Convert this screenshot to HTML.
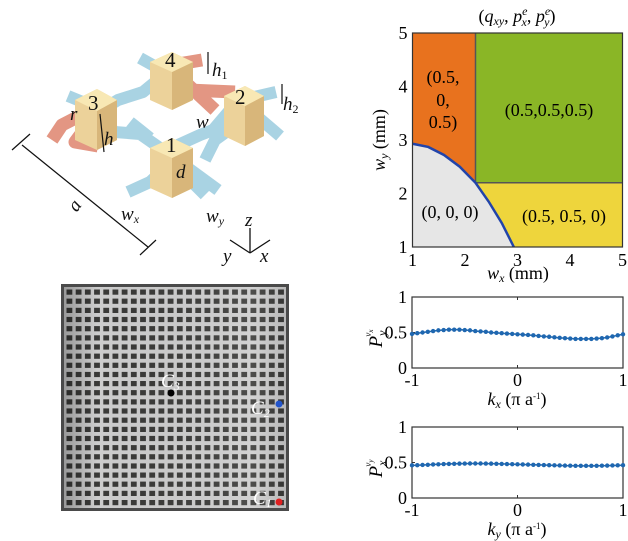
<!DOCTYPE html>
<html><head><meta charset="utf-8"><style>
html,body{margin:0;padding:0;background:#fff}
svg{display:block;font-family:"Liberation Serif",serif}
</style></head><body>
<svg id="fig" width="628" height="541" viewBox="0 0 628 541">
<defs>
<linearGradient id="shade" x1="0" y1="0" x2="1" y2="0">
<stop offset="0" stop-color="#000" stop-opacity="0.25"/>
<stop offset="0.15" stop-color="#000" stop-opacity="0"/>
<stop offset="0.85" stop-color="#fff" stop-opacity="0.1"/>
<stop offset="1" stop-color="#000" stop-opacity="0.1"/>
</linearGradient>
</defs>

<g>
<g fill="none" stroke-linecap="butt" stroke-linejoin="round">
<g stroke="#e39683" stroke-width="13">
<polyline points="95,108 62,125 52,140"/>
<polyline points="95,115 75,142 98,146"/>
<polyline points="170,68 215,110"/>
<polyline points="172,65 202,60"/>
<polyline points="188,90 235,92"/>
</g>
<g stroke="#a9d3e3" stroke-width="12">
<polyline points="158,68 140,58"/>
<polyline points="160,78 143,92 118,100 105,108"/>
<polyline points="100,118 115,132 140,134 160,148"/>
<polyline points="68,96 90,105"/>
<polyline points="178,145 200,135 213,130 230,110"/>
<polyline points="250,98 276,92"/>
<polyline points="252,112 280,136"/>
<polyline points="240,122 215,140 205,160"/>
<polyline points="165,168 150,182 128,192"/>
<polyline points="188,168 218,190"/>
<polyline points="182,172 205,195"/>
<polyline points="130,122 150,138"/>
</g>
</g>
<g>
<polygon points="150,62 172,52 193,62 193,100 172,110 150,100" fill="#ecd29a"/>
<polygon points="172,72 193,62 193,100 172,110" fill="#d8b67a"/>
<polygon points="150,62 172,52 193,62 172,72" fill="#f8e8b4"/>
</g>
<g>
<polygon points="75,100 97,89 117,100 117,140 97,150 75,140" fill="#ecd29a"/>
<polygon points="97,111 117,100 117,140 97,150" fill="#d8b67a"/>
<polygon points="75,100 97,89 117,100 97,111" fill="#f8e8b4"/>
</g>
<g>
<polygon points="224,96 245,86 264,96 264,136 245,146 224,136" fill="#ecd29a"/>
<polygon points="245,106 264,96 264,136 245,146" fill="#d8b67a"/>
<polygon points="224,96 245,86 264,96 245,106" fill="#f8e8b4"/>
</g>
<g>
<polygon points="150,148 172,138 193,148 193,188 172,198 150,188" fill="#ecd29a"/>
<polygon points="172,158 193,148 193,188 172,198" fill="#d8b67a"/>
<polygon points="150,148 172,138 193,148 172,158" fill="#f8e8b4"/>
</g>
<g font-size="21" fill="#111">
<text x="165" y="67">4</text><text x="88" y="110">3</text><text x="235" y="104">2</text><text x="166" y="152">1</text>
</g>
<g font-size="19" font-style="italic" fill="#111">
<text x="212" y="76">h<tspan font-size="12" font-style="normal" dy="3">1</tspan></text>
<text x="283" y="110">h<tspan font-size="12" font-style="normal" dy="3">2</tspan></text>
<text x="70" y="120">r</text>
<text x="104" y="145">h</text>
<text x="196" y="128">w</text>
<text x="176" y="178">d</text>
<text x="121" y="220">w<tspan font-size="12" dy="3">x</tspan></text>
<text x="206" y="222">w<tspan font-size="12" dy="3">y</tspan></text>
<text x="68" y="210" transform="rotate(-55 75 203)">a</text>
</g>
<g stroke="#111" stroke-width="1.2">
<line x1="22" y1="145" x2="148" y2="247"/>
<line x1="12" y1="150" x2="30" y2="134"/>
<line x1="140" y1="255" x2="156" y2="240"/>
<line x1="100" y1="114" x2="104" y2="152"/>
<line x1="208" y1="52" x2="208" y2="74"/>
<line x1="282" y1="84" x2="282" y2="104"/>
</g>
<g stroke="#111" stroke-width="1.3" fill="none">
<line x1="250" y1="253" x2="250" y2="228"/>
<line x1="250" y1="253" x2="230" y2="240"/>
<line x1="250" y1="253" x2="270" y2="240"/>
</g>
<g font-size="19" font-style="italic" fill="#111">
<text x="245" y="226">z</text><text x="223" y="262">y</text><text x="260" y="262">x</text>
</g>
</g>

<g>
<rect x="61" y="284" width="228" height="227" fill="#4a4a4a"/>
<rect x="64" y="287" width="222" height="221" fill="#cdcdcd"/>
<g id="holes" fill="#3a3a38"></g>
<rect x="64" y="287" width="222" height="221" fill="url(#shade)"/>
<circle cx="171" cy="393" r="3.5" fill="#000"/>
<circle cx="279" cy="404" r="3.5" fill="#2255cc"/>
<circle cx="279" cy="502" r="3.5" fill="#e02020"/>
<g fill="#fff" font-style="italic" font-size="19">
<text x="161" y="387">C<tspan font-size="12" dy="3">3</tspan></text>
<text x="251" y="414">C<tspan font-size="12" dy="3">2</tspan></text>
<text x="253" y="504">C<tspan font-size="12" dy="3">1</tspan></text>
</g>
</g>

<g id="phase"></g>
<g id="p1"></g>
<g id="p2"></g>
</svg>
<script>
const boundaryWx=[1,1.3,1.6,1.9,2.2,2.45,2.7,2.93];
const boundaryWy=[2.93,2.87,2.72,2.5,2.2,1.85,1.45,1];
const phaseSplit=2.2;
const phaseLabels=["(0.5,0.5,0.5)","(0, 0, 0)","(0.5, 0.5, 0)"];
const phaseTicks=[1,2,3,4,5];
const kVals=[-1,-0.95,-0.9,-0.85,-0.8,-0.75,-0.7,-0.65,-0.6,-0.55,-0.5,-0.45,-0.4,-0.35,-0.3,-0.25,-0.2,-0.15,-0.1,-0.05,0,0.05,0.1,0.15,0.2,0.25,0.3,0.35,0.4,0.45,0.5,0.55,0.6,0.65,0.7,0.75,0.8,0.85,0.9,0.95,1];
const pyVals=[0.48,0.49,0.5,0.51,0.52,0.53,0.535,0.54,0.54,0.54,0.535,0.53,0.52,0.515,0.51,0.5,0.495,0.49,0.485,0.48,0.475,0.47,0.465,0.46,0.452,0.445,0.44,0.432,0.425,0.42,0.415,0.41,0.41,0.41,0.41,0.415,0.42,0.43,0.445,0.46,0.475];
const pxVals=[0.46,0.462,0.465,0.468,0.472,0.475,0.478,0.48,0.482,0.484,0.485,0.486,0.486,0.486,0.485,0.484,0.482,0.48,0.478,0.476,0.474,0.472,0.47,0.468,0.466,0.464,0.462,0.46,0.458,0.456,0.455,0.454,0.453,0.453,0.453,0.454,0.455,0.456,0.458,0.46,0.462];
const kTicks=[-1,0,1];
const pTicks=[0,0.5,1];
const NS="http://www.w3.org/2000/svg";
function mk(parent,tag,attrs,txt){const e=document.createElementNS(NS,tag);for(const k in attrs)e.setAttribute(k,attrs[k]);if(txt!==undefined)e.textContent=txt;parent.appendChild(e);return e;}

(function(){
const g=document.getElementById('holes');
for(let i=0;i<24;i++)for(let j=0;j<24;j++){
 mk(g,'rect',{x:(66.5+i*9.2).toFixed(1),y:(289.5+j*9.15).toFixed(1),width:5.8,height:5.2});
}
})();

(function(){
const g=document.getElementById('phase');
const L=412.5,R=622.5,T=33,B=247;
const sx=v=>L+(v-1)/4*(R-L), sy=v=>B-(v-1)/4*(B-T);
const curve=boundaryWx.map((x,i)=>sx(x)+','+sy(boundaryWy[i])).join(' ');
let r;
r=mk(g,'rect',{x:L,y:T,width:sx(phaseSplit)-L,height:B-T,fill:'#e8721e'});


r=mk(g,'rect',{x:sx(phaseSplit),y:T,width:R-sx(phaseSplit),height:sy(phaseSplit)-T,fill:'#8ab626'});


r=mk(g,'rect',{x:sx(phaseSplit),y:sy(phaseSplit),width:R-sx(phaseSplit),height:B-sy(phaseSplit),fill:'#eed53c'});


r=mk(g,'polygon',{points:curve+' '+L+','+B,fill:'#e6e6e6'});


mk(g,'line',{x1:sx(phaseSplit),y1:T,x2:sx(phaseSplit),y2:sy(phaseSplit),stroke:'#555','stroke-width':1.5});
mk(g,'line',{x1:sx(phaseSplit),y1:sy(phaseSplit),x2:R,y2:sy(phaseSplit),stroke:'#555','stroke-width':1.5});
r=mk(g,'polyline',{points:curve,fill:'none',stroke:'#2244aa','stroke-width':2.5});


mk(g,'rect',{x:L,y:T,width:R-L,height:B-T,fill:'none',stroke:'#333','stroke-width':1.2});
phaseTicks.forEach(t=>{
 mk(g,'text',{x:sx(t),y:B+19,'font-size':18,'text-anchor':'middle'},t);
 mk(g,'text',{x:L-5,y:sy(t)+6,'font-size':18,'text-anchor':'end'},t);
});
const lab=[['(0.5,',443,83],['0,',443,106],['0.5)',443,128]];
lab.forEach(a=>mk(g,'text',{x:a[1],y:a[2],'font-size':18,'text-anchor':'middle'},a[0]));
mk(g,'text',{x:549,y:116,'font-size':18,'text-anchor':'middle'},phaseLabels[0]);
mk(g,'text',{x:450,y:218,'font-size':18,'text-anchor':'middle'},phaseLabels[1]);
mk(g,'text',{x:564,y:222,'font-size':18,'text-anchor':'middle'},phaseLabels[2]);
const t1=mk(g,'text',{x:517,y:22,'font-size':18,'text-anchor':'middle'});
t1.innerHTML='(<tspan font-style="italic">q</tspan><tspan font-size="12" font-style="italic" dy="3">xy</tspan><tspan dy="-3">, </tspan><tspan font-style="italic">p</tspan><tspan font-size="12" font-style="italic" dy="-7">e</tspan><tspan font-size="12" font-style="italic" dx="-6" dy="11">x</tspan><tspan dy="-4">, </tspan><tspan font-style="italic">p</tspan><tspan font-size="12" font-style="italic" dy="-7">e</tspan><tspan font-size="12" font-style="italic" dx="-6" dy="11">y</tspan><tspan dy="-4">)</tspan>';
const xl=mk(g,'text',{x:518,y:279,'font-size':18,'text-anchor':'middle'});
xl.innerHTML='<tspan font-style="italic">w</tspan><tspan font-size="12" font-style="italic" dy="3">x</tspan><tspan dy="-3"> (mm)</tspan>';
const yl=mk(g,'text',{x:0,y:0,'font-size':18,'text-anchor':'middle',transform:'translate(385,140) rotate(-90)'});
yl.innerHTML='<tspan font-style="italic">w</tspan><tspan font-size="12" font-style="italic" dy="3">y</tspan><tspan dy="-3"> (mm)</tspan>';
})();

function linePlot(id,T,B,vals,kx){
const g=document.getElementById(id);
const L=412,R=623;
const sx=v=>L+(v+1)/2*(R-L), sy=v=>B-v*(B-T);
mk(g,'rect',{x:L,y:T,width:R-L,height:B-T,fill:'#fff',stroke:'#333','stroke-width':1.2});
pTicks.forEach(t=>{
 mk(g,'text',{x:L-5,y:sy(t)+6,'font-size':18,'text-anchor':'end'},t);
 mk(g,'line',{x1:L,y1:sy(t),x2:L+3,y2:sy(t),stroke:'#333'});
});
kTicks.forEach(t=>{
 mk(g,'text',{x:sx(t),y:B+18,'font-size':18,'text-anchor':'middle'},t);
 mk(g,'line',{x1:sx(t),y1:T,x2:sx(t),y2:T+3,stroke:'#333'});
 mk(g,'line',{x1:sx(t),y1:B,x2:sx(t),y2:B-3,stroke:'#333'});
});
const ln=mk(g,'polyline',{points:kVals.map((k,i)=>sx(k)+','+sy(vals[i])).join(' '),fill:'none',stroke:'#1f67b0','stroke-width':1.5});


kVals.forEach((k,i)=>{
 const c=mk(g,'circle',{cx:sx(k),cy:sy(vals[i]),r:2.2,fill:'#1f67b0'});
 
 
});
const xl=mk(g,'text',{x:517,y:B+37,'font-size':18,'text-anchor':'middle'});
xl.innerHTML='<tspan font-style="italic">k</tspan><tspan font-size="12" font-style="italic" dy="3">'+kx+'</tspan><tspan dy="-3"> (π a</tspan><tspan font-size="9" dy="-6">-1</tspan><tspan dy="6">)</tspan>';
const yl=mk(g,'text',{x:0,y:0,'font-size':19,'text-anchor':'middle',transform:'translate(382,'+(sy(0.5)+6)+') rotate(-90)'});
const sub=kx==='x'?'y':'x';
yl.innerHTML='<tspan font-style="italic">P</tspan><tspan font-size="12" font-style="italic" dy="4">'+sub+'</tspan><tspan font-size="9" font-style="italic" dx="-6" dy="-15">v</tspan><tspan font-size="7" font-style="italic" dy="2">'+kx+'</tspan>';
}
linePlot('p1',297,368,pyVals,'x');
linePlot('p2',427,498,pxVals,'y');
</script>
</body></html>
